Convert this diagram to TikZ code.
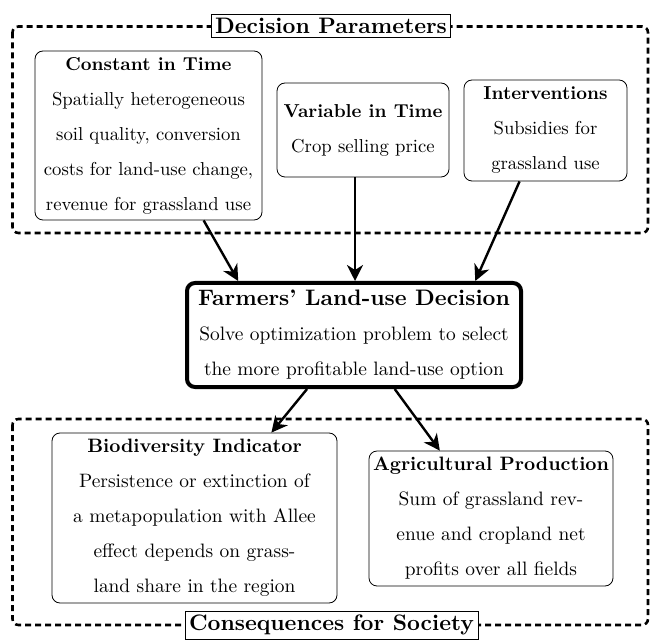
\documentclass[tikz,border=0pt]{standalone}
\usepackage{fontspec}
\setmainfont{lmroman10-regular.otf}[BoldFont=lmroman10-bold.otf,
    ItalicFont=lmroman10-italic.otf, BoldItalicFont=lmroman10-bolditalic.otf]
\usetikzlibrary{arrows.meta}

\tikzset{
    infobox/.style={draw, rounded corners=4pt, align=center, fill=white, inner sep=2pt,
        font=\fontsize{9.35}{17.5}\selectfont},
    lowbox/.style={infobox, font=\fontsize{9.7}{17.5}\selectfont},
    framebox/.style={line width=1.3pt, dash pattern=on 3pt off 2pt, rounded corners=3pt},
    frametitle/.style={draw, fill=white, inner sep=2pt, font=\fontsize{11.2}{14}\selectfont\bfseries},
    flow/.style={line width=1.2pt, -{Stealth[length=8pt,width=8pt,inset=2.5pt]}}
}

\begin{document}
\begin{tikzpicture}[x=0.5pt,y=-0.5pt]
    \useasboundingbox (0,0) rectangle (651,640);

    % group frames
    \draw[framebox] (12.5,26.5) rectangle (648,233);
    \draw[framebox] (12.5,419) rectangle (648,625);
    \node[frametitle] (paramtitle) at (331,26) {Decision Parameters};
    \node[frametitle] (socitle) at (331.5,625) {Consequences for Society};

    % decision parameters
    \node[infobox, minimum width=113.5pt, minimum height=84.5pt] (const) at (148.5,135.5)
        {\textbf{Constant in Time}\\ Spatially heterogeneous\\ soil quality, conversion\\
         costs for land-use change,\\ revenue for grassland use};
    \node[infobox, minimum width=86pt, minimum height=47pt] (var) at (363,130)
        {\textbf{Variable in Time}\\ Crop selling price};
    \node[infobox, minimum width=81.5pt, minimum height=50.5pt] (interv) at (545.5,130.5)
        {\textbf{Interventions}\\ Subsidies for\\ grassland use};

    % farmers' decision
    \node[lowbox, line width=2pt, minimum width=167pt, minimum height=52pt] (decide) at (354,335)
        {{\fontsize{11.2}{17.5}\selectfont\bfseries Farmers' Land-use Decision}\\
         Solve optimization problem to select\\ the more profitable land-use option};

    % consequences
    \node[lowbox, minimum width=142.5pt, minimum height=85pt] (bio) at (194.5,518)
        {\textbf{Biodiversity Indicator}\\ Persistence or extinction of\\ a metapopulation with Allee\\
         effect depends on grass-\\ land share in the region};
    \node[lowbox, minimum width=120pt, minimum height=67.5pt] (agri) at (491,518.5)
        {\textbf{Agricultural Production}\\ Sum of grassland rev-\\ enue and cropland net\\
         profits over all fields};

    % arrows
    \draw[flow] (const.-57.7) -- (decide.155);
    \draw[flow] ([xshift=-4pt]var.south) -- ([xshift=-4pt]var.south |- decide.north);
    \draw[flow] (interv.-117) -- (decide.24.7);
    \draw[flow] (decide.-131.6) -- (bio.48.7);
    \draw[flow] (decide.-53) -- (agri.127.2);
\end{tikzpicture}
\end{document}
